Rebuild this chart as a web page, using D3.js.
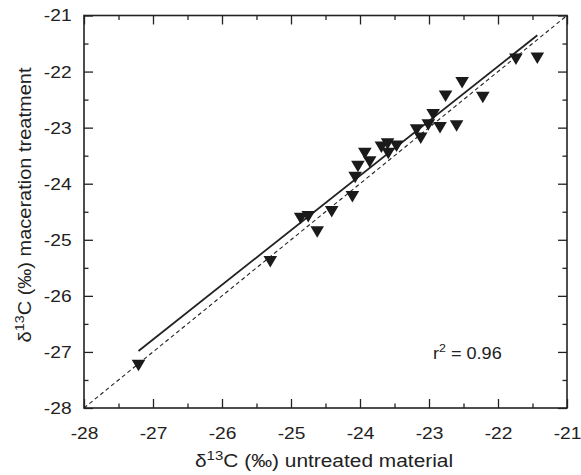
<!DOCTYPE html>
<html lang="en">
<head>
    <meta charset="UTF-8">
    <title>d13C maceration</title>
    <script src="https://d3js.org/d3.v7.min.js"></script>
    <style>
        body { margin: 0; background: #fff; }
        text { font-family: "Liberation Sans", Arial, sans-serif; fill: #222; }
    </style>
</head>
<body>
<script>
    const width = 581
    const height = 475
    const plotLeft = 84, plotRight = 567, plotTop = 15.5, plotBottom = 408
    const stretch = 1.13 // the original lettering is a little wider than Arial

    // untreated material (x) vs maceration treatment (y), per mil
    const untreated = [-27.21, -25.30, -24.86, -24.75, -24.62, -24.41, -24.11, -24.07, -24.03, -23.93,
        -23.86, -23.69, -23.60, -23.59, -23.47, -23.18, -23.12, -23.01, -22.94, -22.84,
        -22.60, -22.76, -22.52, -22.22, -21.74, -21.43]
    const macerated = [-27.21, -25.36, -24.59, -24.56, -24.83, -24.47, -24.20, -23.86, -23.66, -23.43,
        -23.58, -23.32, -23.26, -23.43, -23.30, -23.01, -23.16, -22.92, -22.74, -22.97,
        -22.94, -22.41, -22.17, -22.43, -21.75, -21.73]
    // regression line y = slope * x + intercept over the data range
    const fitSlope = 0.974
    const fitIntercept = -0.48
    const fitRange = [-27.21, -21.43]
    const oneToOne = [-28, -21]
    const majorTicks = [-28, -27, -26, -25, -24, -23, -22, -21]
    const minorTicks = [-27.5, -26.5, -25.5, -24.5, -23.5, -22.5, -21.5]
    const r2Label = "0.96"

    const svg = d3.select("body").append("svg")
        .attr("width", width)
        .attr("height", height)

    const xScale = d3.scaleLinear().domain([-28, -21]).range([plotLeft, plotRight])
    const yScale = d3.scaleLinear().domain([-28, -21]).range([plotBottom, plotTop])
    const fmt = function (d) { return String(d) }   // plain hyphen, not unicode minus

    function styleAxis(g) {
        g.select(".domain").remove()
        g.selectAll(".tick line").attr("stroke", "#222").attr("stroke-width", 1.3)
        g.selectAll("text").attr("font-size", 17).attr("fill", "#222")
            .attr("transform", "scale(" + stretch + ",1)")
    }

    // major ticks with labels (bottom, left), inward
    svg.append("g").attr("transform", "translate(0," + plotBottom + ")")
        .call(d3.axisBottom(xScale).tickValues(majorTicks).tickSize(-9).tickPadding(19).tickFormat(fmt))
        .call(styleAxis)
    svg.append("g").attr("transform", "translate(" + plotLeft + ",0)")
        .call(d3.axisLeft(yScale).tickValues(majorTicks).tickSize(-9).tickPadding(11).tickFormat(fmt))
        .call(styleAxis)
    // top and right: ticks only
    svg.append("g").attr("transform", "translate(0," + plotTop + ")")
        .call(d3.axisTop(xScale).tickValues(majorTicks).tickSize(-9).tickFormat(""))
        .call(styleAxis)
    svg.append("g").attr("transform", "translate(" + plotRight + ",0)")
        .call(d3.axisRight(yScale).tickValues(majorTicks).tickSize(-9).tickFormat(""))
        .call(styleAxis)
    // minor ticks on all sides
    svg.append("g").attr("transform", "translate(0," + plotBottom + ")")
        .call(d3.axisBottom(xScale).tickValues(minorTicks).tickSize(-4.5).tickFormat("")).call(styleAxis)
    svg.append("g").attr("transform", "translate(0," + plotTop + ")")
        .call(d3.axisTop(xScale).tickValues(minorTicks).tickSize(-4.5).tickFormat("")).call(styleAxis)
    svg.append("g").attr("transform", "translate(" + plotLeft + ",0)")
        .call(d3.axisLeft(yScale).tickValues(minorTicks).tickSize(-4.5).tickFormat("")).call(styleAxis)
    svg.append("g").attr("transform", "translate(" + plotRight + ",0)")
        .call(d3.axisRight(yScale).tickValues(minorTicks).tickSize(-4.5).tickFormat("")).call(styleAxis)

    // frame
    svg.append("rect")
        .attr("x", plotLeft).attr("y", plotTop)
        .attr("width", plotRight - plotLeft).attr("height", plotBottom - plotTop)
        .attr("fill", "none").attr("stroke", "#222").attr("stroke-width", 1.6)

    // 1:1 line
    svg.append("line")
        .attr("x1", xScale(oneToOne[0])).attr("y1", yScale(oneToOne[0]))
        .attr("x2", xScale(oneToOne[1])).attr("y2", yScale(oneToOne[1]))
        .attr("stroke", "#222").attr("stroke-width", 1.1)
        .attr("stroke-dasharray", "4,3")

    // regression line
    svg.append("line")
        .attr("x1", xScale(fitRange[0])).attr("y1", yScale(fitSlope * fitRange[0] + fitIntercept))
        .attr("x2", xScale(fitRange[1])).attr("y2", yScale(fitSlope * fitRange[1] + fitIntercept))
        .attr("stroke", "#222").attr("stroke-width", 1.8)

    // points: downward triangles
    const tri = "M-6.8,-4 L6.8,-4 L0,7.5 Z"
    svg.append("g")
        .selectAll("path")
        .data(untreated)
        .enter()
        .append("path")
        .attr("d", tri)
        .attr("transform", function (d, i) {
            return "translate(" + xScale(d) + "," + yScale(macerated[i]) + ")"
        })
        .attr("fill", "#1a1a1a")

    // r squared
    const r2 = svg.append("text")
        .attr("transform", "translate(433,359) scale(" + stretch + ",1)")
        .attr("font-size", 16)
    r2.append("tspan").text("r")
    r2.append("tspan").text("2").attr("font-size", 11).attr("dy", -7)
    r2.append("tspan").text(" = " + r2Label).attr("dy", 7)

    // axis titles
    function title(sel, rest) {
        sel.append("tspan").text("\u03b4")
        sel.append("tspan").text("13").attr("font-size", "0.72em").attr("dy", -7)
        sel.append("tspan").text("C (\u2030) " + rest).attr("dy", 7)
    }
    const xt = svg.append("text")
        .attr("transform", "translate(324,467) scale(" + stretch + ",1)")
        .attr("text-anchor", "middle")
        .attr("font-size", 18.5)
    title(xt, "untreated material")

    const yt = svg.append("text")
        .attr("transform", "translate(31,205) rotate(-90) scale(" + stretch + ",1)")
        .attr("text-anchor", "middle")
        .attr("font-size", 17.7)
    title(yt, "maceration treatment")
</script>
</body>
</html>
